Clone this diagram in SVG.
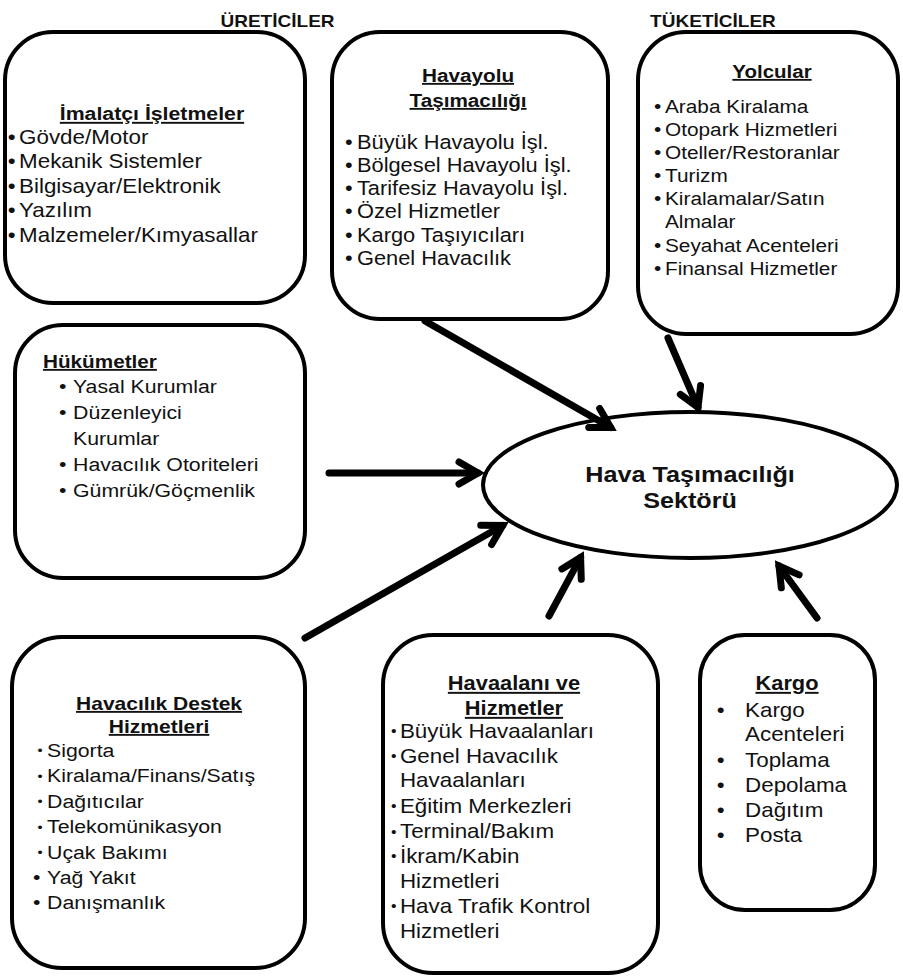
<svg xmlns="http://www.w3.org/2000/svg" width="903" height="978" viewBox="0 0 903 978">
<style>
.box{fill:#fff;stroke:#000;stroke-width:4}
.t{font-family:"Liberation Sans",Arial,sans-serif;fill:#111}
.h{font-weight:bold;text-decoration:underline}
.hd{font-weight:bold}
.conn line{stroke:#000;stroke-width:7;stroke-linecap:round;marker-end:url(#ah)}
</style>
<defs>
<marker id="ah" markerUnits="userSpaceOnUse" markerWidth="50" markerHeight="50" viewBox="-40 -25 50 50" refX="0" refY="0" orient="auto">
<path d="M-19,-11 L0,0 L-19,11" fill="none" stroke="#000" stroke-width="7" stroke-linecap="round" stroke-linejoin="miter"/>
</marker>
</defs>
<rect width="903" height="978" fill="#fff"/>

<g id="headers" class="t hd" font-size="17" transform="scale(1.12,1)">
<text x="247.8" y="27" text-anchor="middle">ÜRETİCİLER</text>
<text x="636.6" y="27" text-anchor="middle">TÜKETİCİLER</text>
</g>

<g id="n-imalatci">
<rect class="box" x="5" y="32" width="300" height="271" rx="48"/>
<g class="t" font-size="20" transform="scale(1.12,1)">
<text class="h" x="135.7" y="120" text-anchor="middle" font-size="19">İmalatçı İşletmeler</text>
<text y="144"><tspan x="7">•</tspan><tspan x="17">Gövde/Motor</tspan></text>
<text y="168.5"><tspan x="7">•</tspan><tspan x="17">Mekanik Sistemler</tspan></text>
<text y="193"><tspan x="7">•</tspan><tspan x="17">Bilgisayar/Elektronik</tspan></text>
<text y="217.5"><tspan x="7">•</tspan><tspan x="17">Yazılım</tspan></text>
<text y="242"><tspan x="7">•</tspan><tspan x="17">Malzemeler/Kımyasallar</tspan></text>
</g>
</g>

<g id="n-havayolu">
<rect class="box" x="332" y="32" width="276" height="287" rx="48"/>
<g class="t" font-size="19.5" transform="scale(1.12,1)">
<text class="h" x="417.9" y="82" text-anchor="middle" font-size="18.5">Havayolu</text>
<text class="h" x="417.9" y="107" text-anchor="middle" font-size="18.5">Taşımacılığı</text>
<text y="149"><tspan x="308">•</tspan><tspan x="318.7">Büyük Havayolu İşl.</tspan></text>
<text y="172"><tspan x="308">•</tspan><tspan x="318.7">Bölgesel Havayolu İşl.</tspan></text>
<text y="195"><tspan x="308">•</tspan><tspan x="318.7">Tarifesiz Havayolu İşl.</tspan></text>
<text y="218"><tspan x="308">•</tspan><tspan x="318.7">Özel Hizmetler</tspan></text>
<text y="242"><tspan x="308">•</tspan><tspan x="318.7">Kargo Taşıyıcıları</tspan></text>
<text y="265"><tspan x="308">•</tspan><tspan x="318.7">Genel Havacılık</tspan></text>
</g>
</g>

<g id="n-yolcular">
<rect class="box" x="638" y="32" width="260" height="302" rx="48"/>
<g class="t" font-size="18.6" transform="scale(1.12,1)">
<text class="h" x="689.3" y="78" text-anchor="middle" font-size="18.3">Yolcular</text>
<text y="113"><tspan x="584">•</tspan><tspan x="593.7">Araba Kiralama</tspan></text>
<text y="136.1"><tspan x="584">•</tspan><tspan x="593.7">Otopark Hizmetleri</tspan></text>
<text y="159.2"><tspan x="584">•</tspan><tspan x="593.7">Oteller/Restoranlar</tspan></text>
<text y="182.3"><tspan x="584">•</tspan><tspan x="593.7">Turizm</tspan></text>
<text y="205.4"><tspan x="584">•</tspan><tspan x="593.7">Kiralamalar/Satın</tspan></text>
<text x="593.7" y="228.5">Almalar</text>
<text y="251.6"><tspan x="584">•</tspan><tspan x="593.7">Seyahat Acenteleri</tspan></text>
<text y="274.7"><tspan x="584">•</tspan><tspan x="593.7">Finansal Hizmetler</tspan></text>
</g>
</g>

<g id="n-hukumetler">
<rect class="box" x="15" y="325" width="290" height="253" rx="48"/>
<g class="t" font-size="19" transform="scale(1.12,1)">
<text class="h" x="38.4" y="368" font-size="18.5">Hükümetler</text>
<text y="393"><tspan x="52.7">•</tspan><tspan x="65.2">Yasal Kurumlar</tspan></text>
<text y="419"><tspan x="52.7">•</tspan><tspan x="65.2">Düzenleyici</tspan></text>
<text x="65.2" y="445">Kurumlar</text>
<text y="471"><tspan x="52.7">•</tspan><tspan x="65.2">Havacılık Otoriteleri</tspan></text>
<text y="497"><tspan x="52.7">•</tspan><tspan x="65.2">Gümrük/Göçmenlik</tspan></text>
</g>
</g>

<g id="n-sektor">
<ellipse cx="690" cy="485" rx="207" ry="73" fill="#fff" stroke="#000" stroke-width="4"/>
<g class="t hd" font-size="22.5" transform="scale(1.12,1)">
<text x="616.1" y="482" text-anchor="middle">Hava Taşımacılığı</text>
<text x="616.1" y="508" text-anchor="middle">Sektörü</text>
</g>
</g>

<g id="n-destek">
<rect class="box" x="12" y="637" width="293" height="331" rx="50"/>
<g class="t" font-size="19" transform="scale(1.12,1)">
<text class="h" x="142" y="710" text-anchor="middle" font-size="18.8">Havacılık Destek</text>
<text class="h" x="142" y="733" text-anchor="middle" font-size="18.8">Hizmetleri</text>
<text y="757"><tspan x="33.5" font-size="13" y="755.5">•</tspan><tspan x="42" y="757">Sigorta</tspan></text>
<text y="782.4"><tspan x="33.5" font-size="13" y="780.9">•</tspan><tspan x="42" y="782.4">Kiralama/Finans/Satış</tspan></text>
<text y="807.8"><tspan x="33.5" font-size="13" y="806.3">•</tspan><tspan x="42" y="807.8">Dağıtıcılar</tspan></text>
<text y="833.2"><tspan x="33.5" font-size="13" y="831.7">•</tspan><tspan x="42" y="833.2">Telekomünikasyon</tspan></text>
<text y="858.6"><tspan x="33.5" font-size="13" y="857.1">•</tspan><tspan x="42" y="858.6">Uçak Bakımı</tspan></text>
<text y="884"><tspan x="29.5">•</tspan><tspan x="42">Yağ Yakıt</tspan></text>
<text y="909.4"><tspan x="29.5">•</tspan><tspan x="42">Danışmanlık</tspan></text>
</g>
</g>

<g id="n-havaalani">
<rect class="box" x="383" y="635" width="275" height="338" rx="50"/>
<g class="t" font-size="20" transform="scale(1.12,1)">
<text class="h" x="458.9" y="690" text-anchor="middle" font-size="19.5">Havaalanı ve</text>
<text class="h" x="458.9" y="715" text-anchor="middle" font-size="19.5">Hizmetler</text>
<text y="738"><tspan x="349" font-size="14" y="736.5">•</tspan><tspan x="357.1" y="738">Büyük Havaalanları</tspan></text>
<text y="763"><tspan x="349" font-size="14" y="761.5">•</tspan><tspan x="357.1" y="763">Genel Havacılık</tspan></text>
<text x="357.1" y="787.5">Havaalanları</text>
<text y="813"><tspan x="349" font-size="14" y="811.5">•</tspan><tspan x="357.1" y="813">Eğitim Merkezleri</tspan></text>
<text y="838"><tspan x="349" font-size="14" y="836.5">•</tspan><tspan x="357.1" y="838">Terminal/Bakım</tspan></text>
<text y="863"><tspan x="349" font-size="14" y="861.5">•</tspan><tspan x="357.1" y="863">İkram/Kabin</tspan></text>
<text x="357.1" y="888">Hizmetleri</text>
<text y="913"><tspan x="349" font-size="14" y="911.5">•</tspan><tspan x="357.1" y="913">Hava Trafik Kontrol</tspan></text>
<text x="357.1" y="938">Hizmetleri</text>
</g>
</g>

<g id="n-kargo">
<rect class="box" x="700" y="635" width="175" height="275" rx="45"/>
<g class="t" font-size="20" transform="scale(1.12,1)">
<text class="h" x="702.7" y="690" text-anchor="middle" font-size="19.5">Kargo</text>
<text y="717"><tspan x="640">•</tspan><tspan x="665.2">Kargo</tspan></text>
<text x="665.2" y="741.5">Acenteleri</text>
<text y="767"><tspan x="640">•</tspan><tspan x="665.2">Toplama</tspan></text>
<text y="792"><tspan x="640">•</tspan><tspan x="665.2">Depolama</tspan></text>
<text y="817"><tspan x="640">•</tspan><tspan x="665.2">Dağıtım</tspan></text>
<text y="842"><tspan x="640">•</tspan><tspan x="665.2">Posta</tspan></text>
</g>
</g>

<g id="connectors" class="conn">
<line x1="425" y1="321" x2="610.7" y2="427.5"/>
<line x1="668" y1="338" x2="698" y2="407.4"/>
<line x1="329" y1="473" x2="478" y2="473"/>
<line x1="305" y1="638" x2="502.7" y2="525.5"/>
<line x1="549" y1="616" x2="580.6" y2="557.4"/>
<line x1="817" y1="618" x2="779" y2="566"/>
</g>
</svg>
